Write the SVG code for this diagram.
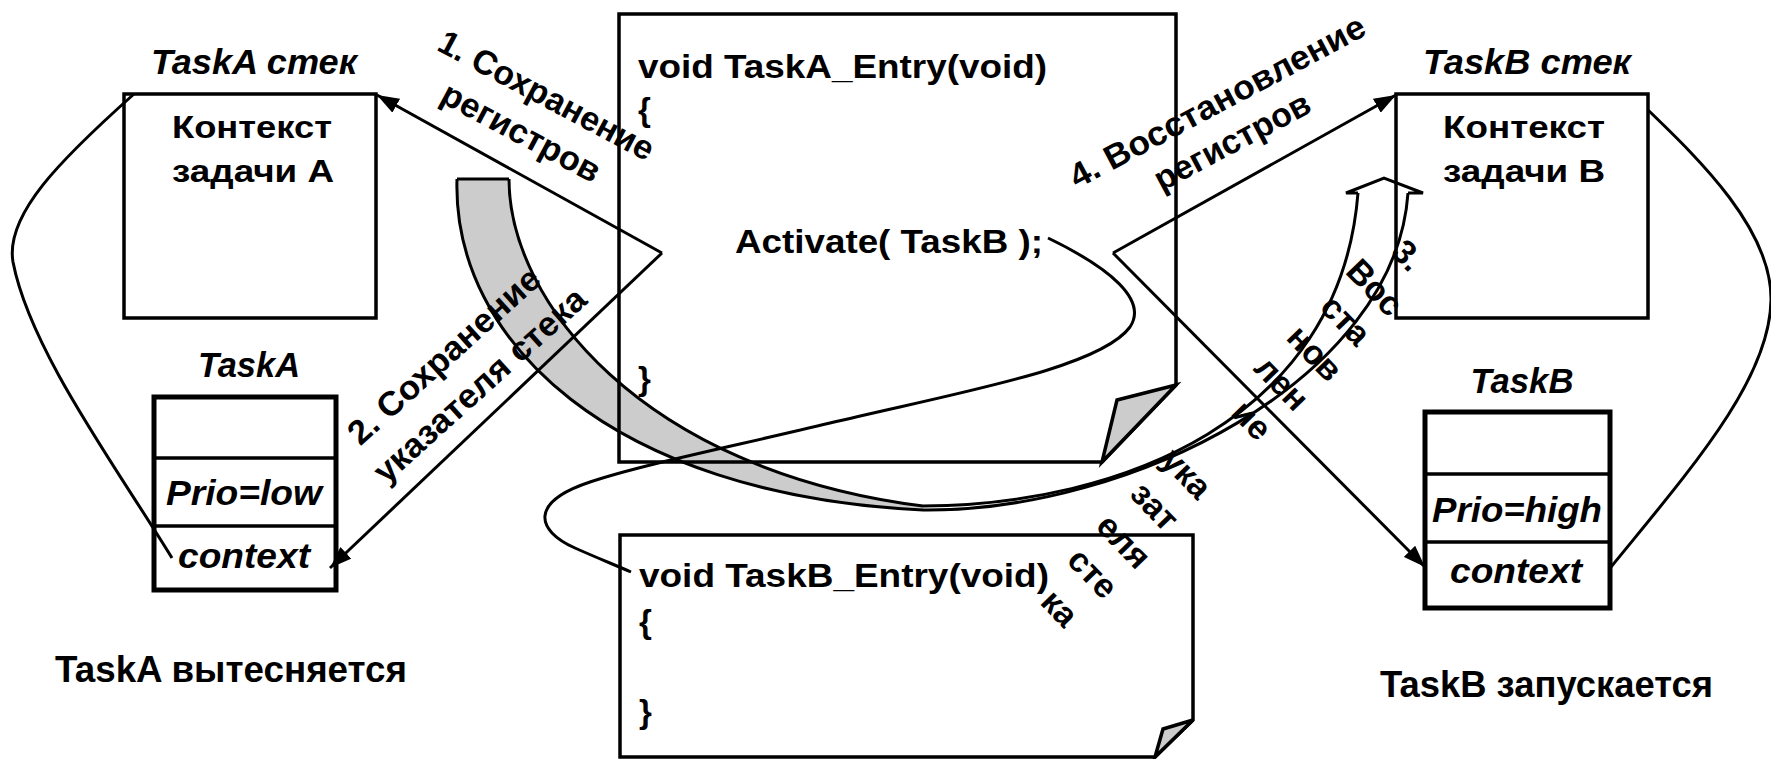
<svg xmlns="http://www.w3.org/2000/svg" width="1771" height="759" viewBox="0 0 1771 759">
<style>
text { font-family: "Liberation Sans", Arial, sans-serif; font-weight: bold; fill: #000; }
.it { font-style: italic; }
.box { fill: none; stroke: #000; stroke-width: 3.5; }
.tbl { fill: #fff; stroke: #000; stroke-width: 5; }
.div { stroke: #000; stroke-width: 3.5; }
.ln { fill: none; stroke: #000; stroke-width: 3; }
.fold { fill: #cccccc; stroke: #000; stroke-width: 3.5; stroke-linejoin: miter; }
.band { fill: #cccccc; stroke: none; }
.code { font-size: 33px; }
.lab { font-size: 35px; }
.cap { font-size: 36px; }
.ctx { font-size: 32px; }
.rot { font-size: 34px; }
</style>
<defs>
<marker id="ah" markerUnits="userSpaceOnUse" markerWidth="24" markerHeight="16" refX="22" refY="8" orient="auto">
<path d="M0,0 L22,8 L0,16 Z" fill="#000"/>
</marker>
</defs>

<g id="taskA-tcb">
<rect class="tbl" x="154" y="397" width="182" height="193"/>
<line class="div" x1="154" y1="458" x2="336" y2="458"/>
<line class="div" x1="154" y1="526" x2="336" y2="526"/>
<text class="lab it" x="249" y="377" text-anchor="middle" textLength="102" lengthAdjust="spacingAndGlyphs">TaskA</text>
<text class="lab it" x="244" y="505" text-anchor="middle" textLength="156" lengthAdjust="spacingAndGlyphs">Prio=low</text>
<text class="lab it" x="244" y="568" text-anchor="middle" textLength="132" lengthAdjust="spacingAndGlyphs">context</text>
</g>

<g id="taskB-tcb">
<rect class="tbl" x="1425" y="412" width="185" height="196"/>
<line class="div" x1="1425" y1="474" x2="1610" y2="474"/>
<line class="div" x1="1425" y1="542" x2="1610" y2="542"/>
<text class="lab it" x="1522" y="393" text-anchor="middle" textLength="103" lengthAdjust="spacingAndGlyphs">TaskB</text>
<text class="lab it" x="1517" y="522" text-anchor="middle" textLength="170" lengthAdjust="spacingAndGlyphs">Prio=high</text>
<text class="lab it" x="1516" y="583" text-anchor="middle" textLength="132" lengthAdjust="spacingAndGlyphs">context</text>
</g>

<g id="connectors">
<!-- curved block arrow (step 3) -->
<path class="band" d="M457,179 C452,340 610,495 923,510 L923,506 C640,470 509,300 509,179 Z"/>
<path class="ln" d="M457,179 H509"/>
<path class="ln" d="M509,179 C509,300 640,470 923,506 C1120,505 1340,420 1358,193"/>
<path class="ln" d="M457,179 C452,340 610,495 923,510 C1130,512 1395,380 1408,193"/>
<path class="ln" d="M1358,193 L1346,193 L1384,178 L1423,193 L1408,193" stroke-linejoin="miter"/>

<!-- arrows from Activate() -->
<line class="ln" x1="662" y1="253" x2="377" y2="95" marker-end="url(#ah)"/>
<line class="ln" x1="662" y1="253" x2="330" y2="568" marker-end="url(#ah)"/>
<line class="ln" x1="1113" y1="253" x2="1396" y2="95" marker-end="url(#ah)"/>
<line class="ln" x1="1113" y1="253" x2="1425" y2="567" marker-end="url(#ah)"/>

<!-- control flow curve from Activate to TaskB_Entry -->
<path class="ln" d="M1048,238 C1110,268 1148,300 1130,327 C1100,368 960,392 830,423 C730,447 640,465 590,482 C530,502 535,530 575,548 C595,557 615,565 631,572"/>

<!-- TCB context to stack curves -->
<path class="ln" d="M172,558 C115,465 30,350 13,262 C5,215 60,160 134,94"/>
<path class="ln" d="M1648,110 C1700,160 1772,230 1771,300 C1770,380 1690,470 1611,567"/>

<!-- labels -->
<g id="label1">
<text class="rot" transform="translate(545,98) rotate(28)" x="0" y="8.5" text-anchor="middle" textLength="239" lengthAdjust="spacingAndGlyphs">1. Сохранение</text>
<text class="rot" transform="translate(518,138) rotate(28)" x="0" y="5" text-anchor="middle" textLength="175" lengthAdjust="spacingAndGlyphs">регистров</text>
</g>
<g id="label2">
<text class="rot" transform="translate(446,358) rotate(-42)" x="0" y="8.5" text-anchor="middle" textLength="246" lengthAdjust="spacingAndGlyphs">2. Сохранение</text>
<text class="rot" transform="translate(484,390) rotate(-42)" x="0" y="5" text-anchor="middle" textLength="273" lengthAdjust="spacingAndGlyphs">указателя стека</text>
</g>
<g id="label4">
<text class="rot" transform="translate(1217,101) rotate(-28)" x="0" y="12" text-anchor="middle" textLength="330" lengthAdjust="spacingAndGlyphs">4. Восстановление</text>
<text class="rot" transform="translate(1235,147) rotate(-28)" x="0" y="5" text-anchor="middle" textLength="172" lengthAdjust="spacingAndGlyphs">регистров</text>
</g>
<g id="label3">
<text class="rot" transform="translate(1408,255) rotate(46)" x="0" y="12" text-anchor="middle">3.</text>
<text class="rot" transform="translate(1375,287) rotate(46)" x="0" y="12" text-anchor="middle">Вос</text>
<text class="rot" transform="translate(1344,322) rotate(46)" x="0" y="9" text-anchor="middle">ста</text>
<text class="rot" transform="translate(1313,355) rotate(46)" x="0" y="9" text-anchor="middle">нов</text>
<text class="rot" transform="translate(1280,385) rotate(46)" x="0" y="9" text-anchor="middle">лен</text>
<text class="rot" transform="translate(1250,422) rotate(46)" x="0" y="9" text-anchor="middle">ие</text>
<text class="rot" transform="translate(1182,478) rotate(46)" x="0" y="5" text-anchor="middle">ука</text>
<text class="rot" transform="translate(1153,508) rotate(46)" x="0" y="9" text-anchor="middle">зат</text>
<text class="rot" transform="translate(1122,543) rotate(46)" x="0" y="9" text-anchor="middle">еля</text>
<text class="rot" transform="translate(1091,575) rotate(46)" x="0" y="9" text-anchor="middle">сте</text>
<text class="rot" transform="translate(1058,610) rotate(46)" x="0" y="9" text-anchor="middle">ка</text>
</g>
</g>

<g id="taskA-stack">
<rect class="box" x="124" y="94" width="252" height="224"/>
<text class="lab it" x="254" y="74" text-anchor="middle" textLength="206" lengthAdjust="spacingAndGlyphs">TaskA стек</text>
<text class="ctx" x="252" y="138" text-anchor="middle" textLength="160" lengthAdjust="spacingAndGlyphs">Контекст</text>
<text class="ctx" x="253" y="182" text-anchor="middle" textLength="162" lengthAdjust="spacingAndGlyphs">задачи А</text>
</g>

<g id="taskB-stack">
<rect class="box" x="1396" y="94" width="252" height="224"/>
<text class="lab it" x="1527" y="74" text-anchor="middle" textLength="208" lengthAdjust="spacingAndGlyphs">TaskB стек</text>
<text class="ctx" x="1524" y="138" text-anchor="middle" textLength="162" lengthAdjust="spacingAndGlyphs">Контекст</text>
<text class="ctx" x="1524" y="182" text-anchor="middle" textLength="162" lengthAdjust="spacingAndGlyphs">задачи В</text>
</g>

<g id="taskA-code">
<path class="box" d="M619,14 H1176 V385 L1102,462 H619 Z"/>
<polygon class="fold" points="1176,385 1117,400 1102,462"/>
<text class="code" x="638" y="78" textLength="409" lengthAdjust="spacingAndGlyphs">void TaskA_Entry(void)</text>
<text class="code" x="638" y="121">{</text>
<text class="code" x="735" y="253" textLength="308" lengthAdjust="spacingAndGlyphs">Activate( TaskB );</text>
<text class="code" x="638" y="390">}</text>
</g>

<g id="taskB-code">
<path class="box" d="M620,535 H1193 V720 L1155,757 H620 Z"/>
<polygon class="fold" points="1193,720 1163,729 1155,757"/>
<text class="code" x="639" y="587" textLength="410" lengthAdjust="spacingAndGlyphs">void TaskB_Entry(void)</text>
<text class="code" x="639" y="633">{</text>
<text class="code" x="639" y="723">}</text>
</g>

<g id="caption-a">
<text class="cap" x="55" y="682" textLength="352" lengthAdjust="spacingAndGlyphs">TaskA вытесняется</text>
</g>
<g id="caption-b">
<text class="cap" x="1380" y="697" textLength="333" lengthAdjust="spacingAndGlyphs">TaskB запускается</text>
</g>
</svg>
